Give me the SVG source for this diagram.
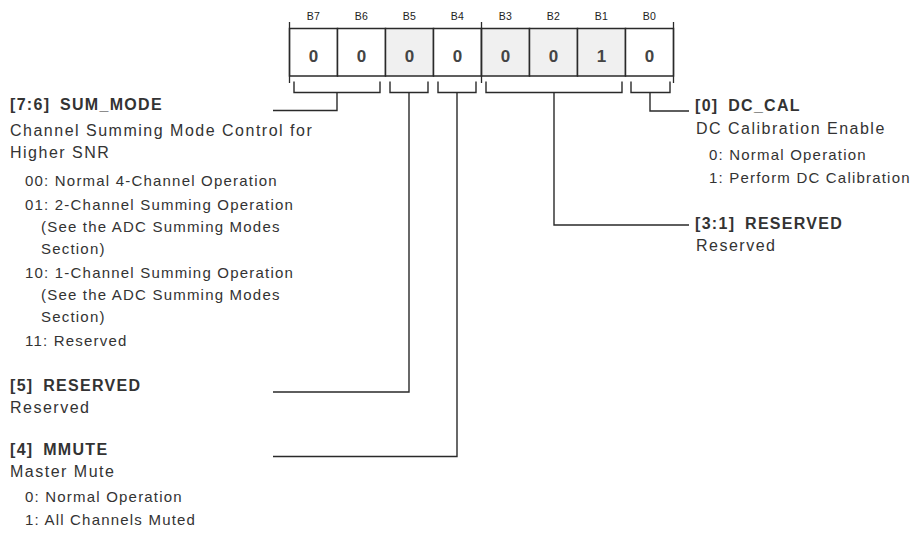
<svg xmlns="http://www.w3.org/2000/svg" width="916" height="538" viewBox="0 0 916 538">
<style>
  .cell { fill: #ffffff; stroke: #2a2a2a; stroke-width: 1.5; }
  .cell.sh { fill: #f0f0f0; }
  .tick { stroke: #2a2a2a; stroke-width: 1.3; fill: none; }
  .bl { font-family: "Liberation Sans", Arial, sans-serif; font-size: 10.5px; fill: #222; text-anchor: middle; letter-spacing: 0.4px; }
  .val { font-family: "Liberation Sans", Arial, sans-serif; font-size: 17px; font-weight: bold; fill: #444; text-anchor: middle; }
  .con { stroke: #2a2a2a; stroke-width: 1.4; fill: none; }
  .h { font-family: "Liberation Sans", Arial, sans-serif; font-size: 16px; font-weight: bold; fill: #333; letter-spacing: 1.3px; word-spacing: 4px; }
  .b { font-family: "Liberation Sans", Arial, sans-serif; font-size: 16px; fill: #333; letter-spacing: 1.5px; }
  .s { font-family: "Liberation Sans", Arial, sans-serif; font-size: 15px; fill: #333; letter-spacing: 1.2px; }
</style>

<g id="register">
  <rect class="cell" x="289.5" y="28.5" width="48" height="47.5"/>
  <rect class="cell" x="337.5" y="28.5" width="48" height="47.5"/>
  <rect class="cell sh" x="385.5" y="28.5" width="48" height="47.5"/>
  <rect class="cell" x="433.5" y="28.5" width="48" height="47.5"/>
  <rect class="cell sh" x="481.5" y="28.5" width="48" height="47.5"/>
  <rect class="cell sh" x="529.5" y="28.5" width="48" height="47.5"/>
  <rect class="cell sh" x="577.5" y="28.5" width="48" height="47.5"/>
  <rect class="cell" x="625.5" y="28.5" width="48" height="47.5"/>
  <line class="tick" x1="289.5" y1="22" x2="289.5" y2="83"/>
  <line class="tick" x1="481.5" y1="22" x2="481.5" y2="83"/>
  <line class="tick" x1="673.5" y1="22" x2="673.5" y2="83"/>
  <text class="bl" x="313.5" y="20">B7</text>
  <text class="bl" x="361.5" y="20">B6</text>
  <text class="bl" x="409.5" y="20">B5</text>
  <text class="bl" x="457.5" y="20">B4</text>
  <text class="bl" x="505.5" y="20">B3</text>
  <text class="bl" x="553.5" y="20">B2</text>
  <text class="bl" x="601.5" y="20">B1</text>
  <text class="bl" x="649.5" y="20">B0</text>
  <text class="val" x="313.5" y="62">0</text>
  <text class="val" x="361.5" y="62">0</text>
  <text class="val" x="409.5" y="62">0</text>
  <text class="val" x="457.5" y="62">0</text>
  <text class="val" x="505.5" y="62">0</text>
  <text class="val" x="553.5" y="62">0</text>
  <text class="val" x="601.5" y="62">1</text>
  <text class="val" x="649.5" y="62">0</text>
</g>

<g id="connectors">
  <path class="con" d="M294,81.5 V92.5 H380 V81.5"/>
  <path class="con" d="M390,81.5 V92.5 H428 V81.5"/>
  <path class="con" d="M438,81.5 V92.5 H476 V81.5"/>
  <path class="con" d="M486,81.5 V92.5 H622 V81.5"/>
  <path class="con" d="M631,81.5 V92.5 H670 V81.5"/>
  <path class="con" d="M337,92.5 V110.5 H273"/>
  <path class="con" d="M409,92.5 V392 H273"/>
  <path class="con" d="M457,92.5 V456.5 H273"/>
  <path class="con" d="M554,92.5 V225 H689"/>
  <path class="con" d="M650,92.5 V111 H689"/>
</g>

<g id="sum_mode">
  <text class="h" x="10" y="110">[7:6] SUM_MODE</text>
  <text class="b" x="10" y="136">Channel Summing Mode Control for</text>
  <text class="b" x="10" y="158">Higher SNR</text>
  <text class="s" x="25" y="186">00: Normal 4-Channel Operation</text>
  <text class="s" x="25" y="210">01: 2-Channel Summing Operation</text>
  <text class="s" x="41" y="232">(See the ADC Summing Modes</text>
  <text class="s" x="41" y="254">Section)</text>
  <text class="s" x="25" y="278">10: 1-Channel Summing Operation</text>
  <text class="s" x="41" y="300">(See the ADC Summing Modes</text>
  <text class="s" x="41" y="322">Section)</text>
  <text class="s" x="25" y="346">11: Reserved</text>
</g>

<g id="reserved5">
  <text class="h" x="10" y="391">[5] RESERVED</text>
  <text class="b" x="10" y="413">Reserved</text>
</g>

<g id="mmute">
  <text class="h" x="10" y="455">[4] MMUTE</text>
  <text class="b" x="10" y="477">Master Mute</text>
  <text class="s" x="25" y="502">0: Normal Operation</text>
  <text class="s" x="25" y="525">1: All Channels Muted</text>
</g>

<g id="dc_cal">
  <text class="h" x="695" y="111">[0] DC_CAL</text>
  <text class="b" x="696" y="134">DC Calibration Enable</text>
  <text class="s" x="709" y="160">0: Normal Operation</text>
  <text class="s" x="709" y="183">1: Perform DC Calibration</text>
</g>

<g id="reserved31">
  <text class="h" x="695" y="229">[3:1] RESERVED</text>
  <text class="b" x="696" y="251">Reserved</text>
</g>
</svg>
